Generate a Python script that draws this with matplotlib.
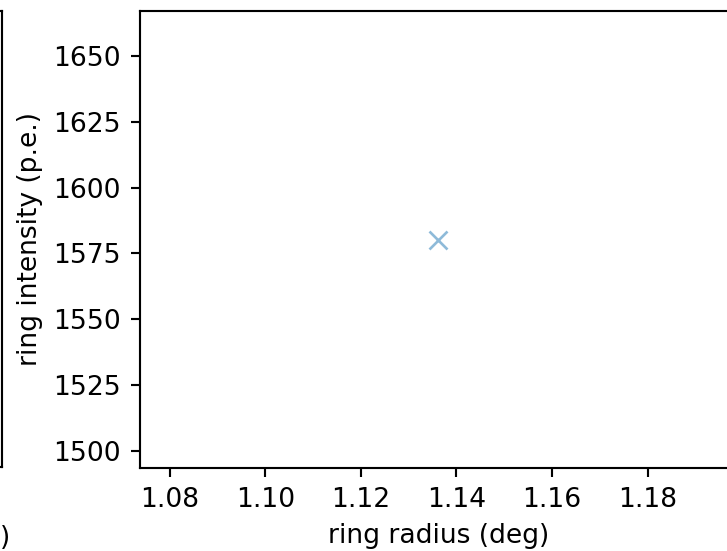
import matplotlib
matplotlib.use("Agg")
import matplotlib.pyplot as plt

# ring fit result (one muon ring)
ring_radius = [1.1362]
ring_intensity = [1580.3]

W, H, DPI = 727, 551, 191
fig = plt.figure(figsize=(W / DPI, H / DPI), dpi=DPI)

# neighbouring panel, only its right edge is visible
ax_left = fig.add_axes([-0.5, (H - 467) / H, 0.5 + 2 / W, 456 / H])
ax_left.set_xticks([])
ax_left.set_yticks([])
fig.text(0.0, (H - 538) / H, ")", ha="left", va="center")

# main panel
ax = fig.add_axes([139.5 / W, (H - 468) / H, (737 - 139.5) / W, 457 / H])
ax.plot(ring_radius, ring_intensity, "x", color="tab:blue", alpha=0.5, ms=7, mew=1.0)
ax.set_xlabel("ring radius (deg)")
ax.set_ylabel("ring intensity (p.e.)")

fig.savefig("out.png", dpi=DPI)
